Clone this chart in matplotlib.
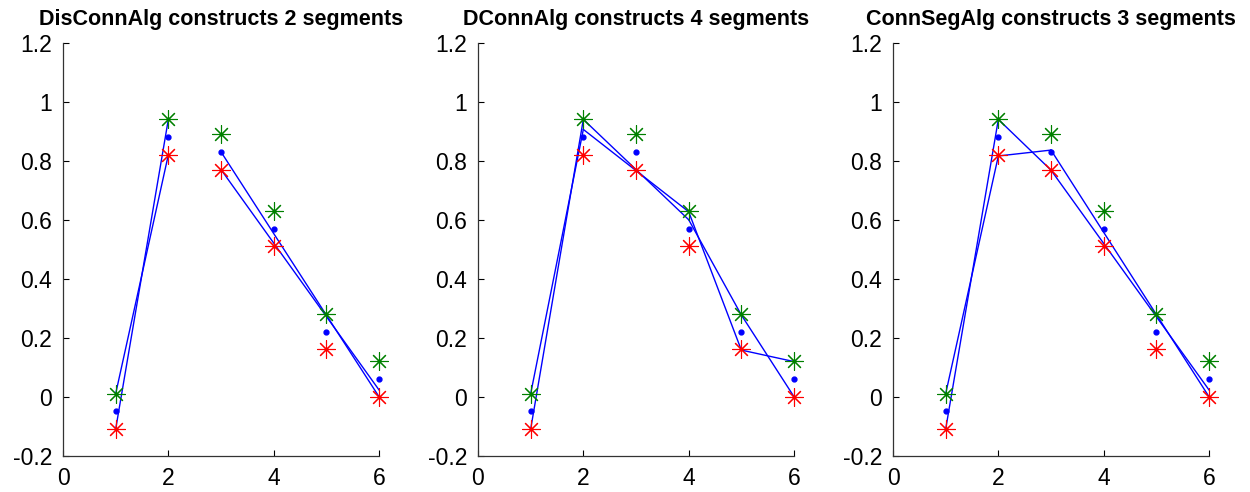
"""
Segment construction comparison: DisConnAlg / DConnAlg / ConnSegAlg.
"""

import numpy as np
import matplotlib
matplotlib.use("Agg")
import matplotlib.pyplot as plt

plt.rcParams["font.family"] = ["Liberation Sans", "DejaVu Sans"]
plt.rcParams["axes.unicode_minus"] = False

# data points
x_pts = [1, 2, 3, 4, 5, 6]
upper = [0.01, 0.94, 0.89, 0.63, 0.28, 0.12]
mid = [-0.05, 0.88, 0.83, 0.57, 0.22, 0.06]
lower = [-0.11, 0.82, 0.77, 0.51, 0.16, 0.00]

titles = [
    "DisConnAlg constructs 2 segments",
    "DConnAlg constructs 4 segments",
    "ConnSegAlg constructs 3 segments",
]

# segments: (x start, x end, line A start, line A end, line B start, line B end)
segs_disconn = [(1, 2, 0.01, 0.82, -0.11, 0.94), (3, 6, 0.83, 0.00, 0.77, 0.023)]
segs_dconn = [
    (1, 2, 0.01, 0.906, -0.11, 0.94),
    (2, 4, 0.94, 0.60, 0.906, 0.627),
    (4, 5, 0.627, 0.158, 0.60, 0.277),
    (5, 6, 0.277, 0.00, 0.158, 0.119),
]
segs_connseg = [
    (1, 2, 0.01, 0.816, -0.11, 0.94),
    (2, 3, 0.94, 0.768, 0.816, 0.836),
    (3, 6, 0.836, 0.00, 0.768, 0.023),
]
all_segs = [segs_disconn, segs_dconn, segs_connseg]

yticks = [-0.2, 0, 0.2, 0.4, 0.6, 0.8, 1, 1.2]
xticks = [0, 2, 4, 6]

fig = plt.figure(figsize=(12.5, 4.92), dpi=100)
lefts = [0.0504, 0.3824, 0.7144]
asterisk = (8, 2, 0)

for left, title, segs in zip(lefts, titles, all_segs):
    ax = fig.add_axes([left, 0.0738, 0.2528, 0.8394])

    for x0, x1, a0, a1, b0, b1 in segs:
        ax.plot([x0, x1], [a0, a1], color="blue", lw=1.0, clip_on=False)
        ax.plot([x0, x1], [b0, b1], color="blue", lw=1.0, clip_on=False)

    ax.plot(x_pts, upper, linestyle="none", marker=asterisk, ms=13, mew=0.8,
            color=(0, 0.5, 0), clip_on=False)
    ax.plot(x_pts, lower, linestyle="none", marker=asterisk, ms=13, mew=0.8,
            color="red", clip_on=False)
    ax.plot(x_pts, mid, linestyle="none", marker=".", ms=7, color="blue",
            clip_on=False)

    ax.set_xlim(0, 6)
    ax.set_ylim(-0.2, 1.2)
    ax.set_xticks(xticks)
    ax.set_yticks(yticks)
    ax.set_xticklabels([f"{v:g}" for v in xticks])
    ax.set_yticklabels([f"{v:g}" for v in yticks])
    ax.tick_params(direction="in", length=4, width=0.8, labelsize=16.5,
                   pad=8, colors="black")
    for side in ["top", "right"]:
        ax.spines[side].set_visible(False)
    for side in ["left", "bottom"]:
        ax.spines[side].set_linewidth(0.9)
        ax.spines[side].set_color("#333333")
    ax.set_title(title, fontweight="bold", fontsize=15.5, pad=13)

plt.savefig("out.png", dpi=100)
plt.close()
